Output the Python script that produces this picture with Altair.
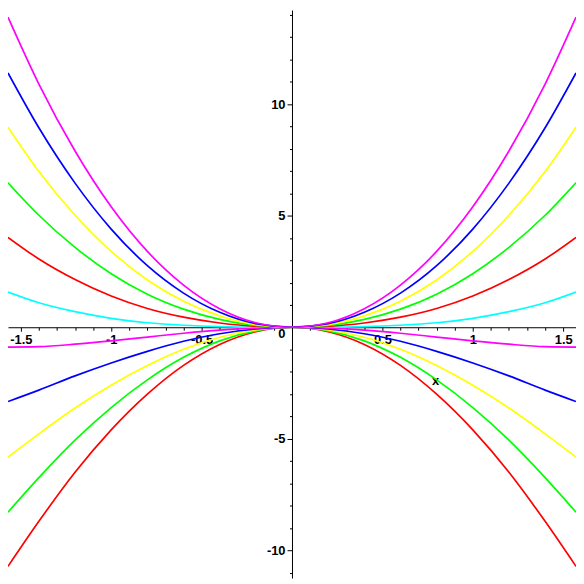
import altair as alt
import pandas as pd

# x positions (domain is -pi/2 .. pi/2)
x_values = [-1.5708, -1.4, -1.2, -1.0, -0.8, -0.6, -0.4, -0.2, 0.0,
            0.2, 0.4, 0.6, 0.8, 1.0, 1.2, 1.4, 1.5708]

# curve values (one list per curve)
red_dn = [-10.72, -8.7, -6.5, -4.6, -3.0, -1.71, -0.77, -0.2, 0.0,
          -0.2, -0.77, -1.71, -3.0, -4.6, -6.5, -8.7, -10.72]
green_dn = [-8.29, -6.74, -5.06, -3.6, -2.36, -1.35, -0.61, -0.16, 0.0,
            -0.16, -0.61, -1.35, -2.36, -3.6, -5.06, -6.74, -8.29]
yellow_dn = [-5.82, -4.78, -3.62, -2.6, -1.72, -0.99, -0.45, -0.12, 0.0,
             -0.12, -0.45, -0.99, -1.72, -2.6, -3.62, -4.78, -5.82]
blue_dn = [-3.33, -2.82, -2.18, -1.6, -1.08, -0.63, -0.29, -0.08, 0.0,
           -0.08, -0.29, -0.63, -1.08, -1.6, -2.18, -2.82, -3.33]
magenta_dn = [-0.89, -0.87, -0.76, -0.61, -0.44, -0.27, -0.13, -0.04, 0.0,
              -0.04, -0.13, -0.27, -0.44, -0.61, -0.76, -0.87, -0.89]
cyan = [1.58, 1.1, 0.7, 0.4, 0.2, 0.09, 0.03, 0.003, 0.0,
        0.003, 0.03, 0.09, 0.2, 0.4, 0.7, 1.1, 1.58]
red_up = [4.03, 3.06, 2.14, 1.4, 0.84, 0.45, 0.19, 0.04, 0.0,
          0.04, 0.19, 0.45, 0.84, 1.4, 2.14, 3.06, 4.03]
green_up = [6.48, 5.02, 3.58, 2.4, 1.48, 0.81, 0.35, 0.08, 0.0,
            0.08, 0.35, 0.81, 1.48, 2.4, 3.58, 5.02, 6.48]
yellow_up = [8.97, 6.98, 5.02, 3.4, 2.12, 1.17, 0.51, 0.12, 0.0,
             0.12, 0.51, 1.17, 2.12, 3.4, 5.02, 6.98, 8.97]
blue_up = [11.4, 8.94, 6.46, 4.4, 2.76, 1.53, 0.67, 0.16, 0.0,
           0.16, 0.67, 1.53, 2.76, 4.4, 6.46, 8.94, 11.4]
magenta_up = [13.9, 10.9, 7.9, 5.4, 3.4, 1.89, 0.83, 0.2, 0.0,
              0.2, 0.83, 1.89, 3.4, 5.4, 7.9, 10.9, 13.9]

curve_series = [red_dn, green_dn, yellow_dn, blue_dn, magenta_dn, cyan,
                red_up, green_up, yellow_up, blue_up, magenta_up]
curve_colors = ["#FF0000", "#00FF00", "#FFFF00", "#0000FF", "#FF00FF", "#00FFFF",
                "#FF0000", "#00FF00", "#FFFF00", "#0000FF", "#FF00FF"]

# axis ticks / labels
x_minor_ticks = [round(-1.5 + 0.1 * i, 1) for i in range(31)]
x_label_values = [-1.5, -1.0, -0.5, 0.5, 1.0, 1.5]
x_label_texts = ["-1.5", "-1", "-0.5", "0.5", "1", "1.5"]
y_minor_ticks = list(range(-11, 15))
y_label_values = [-10, -5, 0, 5, 10]
y_label_texts = ["-10", "-5", "0", "5", "10"]

rows = []
for i, (vals, col) in enumerate(zip(curve_series, curve_colors)):
    for xv, yv in zip(x_values, vals):
        rows.append({"x": xv, "y": yv, "curve": i, "color": col})
df = pd.DataFrame(rows)

W, H = 572, 572
x_dom = [-1.5708, 1.5708]
y_dom = [-11.24, 14.22]
zero_from_bottom = (0 - y_dom[0]) / (y_dom[1] - y_dom[0]) * H
zero_from_left = (0 - x_dom[0]) / (x_dom[1] - x_dom[0]) * W


def label_expr(values, texts):
    expr = "''"
    for v, t in reversed(list(zip(values, texts))):
        expr = f"abs(datum.value - ({v})) < 1e-6 ? '{t}' : " + expr
    return expr


def major_test(values):
    return " || ".join(f"abs(datum.value - ({v})) < 1e-6" for v in values)


font = "Liberation Sans"
fsize = 13

x_axis = alt.Axis(
    orient="bottom",
    offset=-zero_from_bottom,
    values=x_minor_ticks,
    labelExpr=label_expr(x_label_values, x_label_texts),
    tickSize={"condition": {"test": major_test(x_label_values), "value": 4}, "value": 3},
    grid=False,
    labelOverlap=False,
    labelFlush=False,
    labelBound=False,
    labelFont=font,
    labelFontWeight="bold",
    labelFontSize=fsize,
    labelColor="black",
    labelPadding=2,
    domainColor="black",
    tickColor="black",
    title="x",
    titleX=430,
    titleY=53.6,
    titleAlign="center",
    titleBaseline="middle",
    titleFont=font,
    titleFontWeight="bold",
    titleFontSize=fsize,
    titleColor="black",
)

y_axis = alt.Axis(
    orient="left",
    offset=-zero_from_left,
    values=y_minor_ticks,
    labelExpr=label_expr(y_label_values, y_label_texts),
    tickSize={"condition": {"test": major_test(y_label_values), "value": 5}, "value": 2.5},
    labelBaseline={"condition": {"test": "datum.value == 0", "value": "top"}, "value": "middle"},
    grid=False,
    labelOverlap=False,
    labelFlush=False,
    labelBound=False,
    labelFont=font,
    labelFontWeight="bold",
    labelFontSize=fsize,
    labelColor="black",
    labelPadding=2,
    domainColor="black",
    tickColor="black",
    title=None,
)

chart = alt.Chart(df).mark_line(interpolate="monotone", strokeWidth=1.7, clip=True).encode(
    x=alt.X("x:Q", scale=alt.Scale(domain=x_dom, nice=False, zero=False), axis=x_axis),
    y=alt.Y("y:Q", scale=alt.Scale(domain=y_dom, nice=False, zero=False), axis=y_axis),
    color=alt.Color("color:N", scale=None),
    detail="curve:N",
).properties(
    width=W, height=H, padding=0, autosize="none", background="white"
).configure_view(strokeWidth=0)

chart.save("out.html", embed_options={"renderer": "svg", "actions": False})
